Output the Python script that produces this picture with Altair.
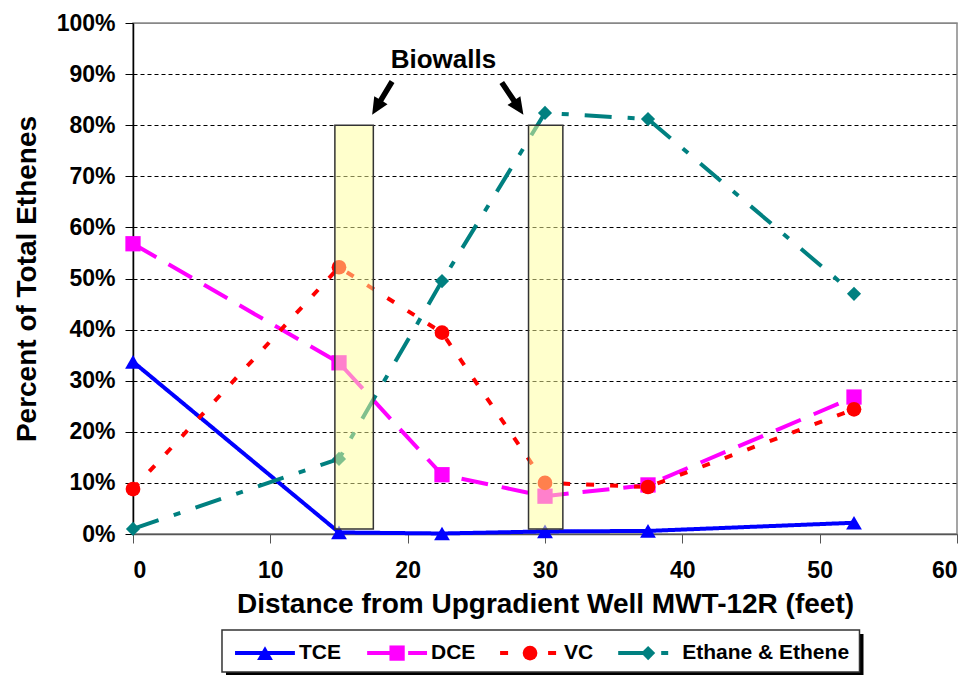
import altair as alt
import pandas as pd

FONT = "Arial, 'Liberation Sans', sans-serif"

# ---- data -------------------------------------------------------------
series = ["TCE", "DCE", "VC", "Ethane & Ethene"]
colors = ["#0000FF", "#FF00FF", "#FF0000", "#008080"]
dashes = [[1, 0], [27, 14], [8, 16], [27, 16, 7, 16]]
shapes = ["triangle-up", "square", "circle", "diamond"]
sizes = [250, 200, 190, 230]

distance = [0, 15, 22.5, 30, 37.5, 52.5]
tce = [33.7, 0.3, 0.1, 0.5, 0.6, 2.2]
dce = [56.8, 33.5, 11.6, 7.4, 9.6, 26.8]
vc = [8.8, 52.2, 39.4, 10.0, 9.2, 24.4]
ethane = [1.0, 14.7, 49.5, 82.4, 81.2, 47.0]

y_ticks = [0.0, 0.1, 0.2, 0.3, 0.4, 0.5, 0.6, 0.7, 0.8, 0.9, 1.0]
x_ticks = [0, 10, 20, 30, 40, 50, 60]

# biowall bands (feet, fraction)
bw_start = [14.7, 28.8]
bw_end = [17.5, 31.3]
bw_top = [0.80, 0.80]
bw_bottom = [0.01, 0.01]

# annotation
label_text = ["Biowalls"]
label_x = [22.6]
label_y = [0.912]
arrow_x = [18.14, 27.64]
arrow_y = [0.853, 0.852]
arrow_angle = [211, 146]

# legend layout (same distance units as the plot)
leg_center = [9.61, 19.23, 28.91, 37.51]
leg_label_x = [12.09, 21.70, 31.39, 39.99]
leg_half = 2.18
leg_box = [6.48, 52.9]
leg_row = 0.45

# ---- tables -------------------------------------------------------------
rows = []
for name, vals in zip(series, [tce, dce, vc, ethane]):
    for d, v in zip(distance, vals):
        rows.append({"series": name, "distance": d, "pct": v / 100.0})
df = pd.DataFrame(rows)

bw_df = pd.DataFrame({"x0": bw_start, "x1": bw_end, "top": bw_top, "bottom": bw_bottom})
lab_df = pd.DataFrame({"x": label_x, "y": label_y, "t": label_text})
arr_df = pd.DataFrame({"x": arrow_x, "y": arrow_y, "a": arrow_angle})

leg_line_rows = []
for name, c in zip(series, leg_center):
    leg_line_rows.append({"series": name, "x": c - leg_half, "y": leg_row})
    leg_line_rows.append({"series": name, "x": c + leg_half, "y": leg_row})
leg_line_df = pd.DataFrame(leg_line_rows)
leg_pt_df = pd.DataFrame({"series": series, "x": leg_center, "y": [leg_row] * 4})
leg_txt_df = pd.DataFrame({"series": series, "x": leg_label_x, "y": [leg_row] * 4})
leg_box_df = pd.DataFrame({"x0": [leg_box[0]], "x1": [leg_box[1]], "y0": [0.0], "y1": [1.0]})

# ---- scales -------------------------------------------------------------
color_scale = alt.Scale(domain=series, range=colors)
dash_scale = alt.Scale(domain=series, range=dashes)
shape_scale = alt.Scale(domain=series, range=shapes)
size_scale = alt.Scale(domain=series, range=sizes)
x_scale = alt.Scale(domain=[0, 60], nice=False, zero=False)
y_scale = alt.Scale(domain=[0, 1], nice=False)

x_axis = alt.Axis(
    values=x_ticks, format="d", grid=False,
    tickSize=9, tickColor="#555555", domainColor="#555555", domainWidth=1.5,
    labelFont=FONT, labelFontSize=23, labelFontWeight="bold", labelColor="black",
    labelPadding=16,
    title="Distance from Upgradient Well MWT-12R (feet)",
    titleFont=FONT, titleFontSize=28, titleFontWeight="bold", titleColor="black",
    titlePadding=8,
)
y_axis = alt.Axis(
    values=y_ticks, format=".0%",
    tickSize=8, tickColor="black", domainColor="black", domainWidth=1.5,
    labelFont=FONT, labelFontSize=23, labelFontWeight="bold", labelColor="black",
    labelPadding=10,
    title="Percent of Total Ethenes",
    titleFont=FONT, titleFontSize=28, titleFontWeight="bold", titleColor="black",
    titlePadding=15,
    grid=True,
    gridColor={"condition": {"test": "datum.value >= 1 || datum.value <= 0", "value": "#888888"}, "value": "#000000"},
    gridDash={"condition": {"test": "datum.value >= 1 || datum.value <= 0", "value": []}, "value": [4, 3]},
    gridWidth=1,
)

X = alt.X("distance:Q", scale=x_scale, axis=x_axis)
Y = alt.Y("pct:Q", scale=y_scale, axis=y_axis)

lines = alt.Chart(df).mark_line(strokeWidth=4, strokeCap="butt").encode(
    x=X, y=Y,
    color=alt.Color("series:N", scale=color_scale, legend=None),
    strokeDash=alt.StrokeDash("series:N", scale=dash_scale, legend=None),
)
points = alt.Chart(df).mark_point(filled=True, opacity=1, strokeWidth=0).encode(
    x=X, y=Y,
    color=alt.Color("series:N", scale=color_scale, legend=None),
    shape=alt.Shape("series:N", scale=shape_scale, legend=None),
    size=alt.Size("series:N", scale=size_scale, legend=None),
)
walls = alt.Chart(bw_df).mark_rect(
    fill="#FFFF99", fillOpacity=0.5, stroke="#333333", strokeWidth=1.5
).encode(
    x=alt.X("x0:Q", scale=x_scale), x2="x1:Q",
    y=alt.Y("top:Q", scale=y_scale), y2="bottom:Q",
)
label = alt.Chart(lab_df).mark_text(
    font=FONT, fontSize=26, fontWeight="bold", color="black",
    align="center", baseline="alphabetic",
).encode(x=alt.X("x:Q", scale=x_scale), y=alt.Y("y:Q", scale=y_scale), text="t:N")
arrows = alt.Chart(arr_df).mark_point(
    shape="arrow", filled=True, color="black", opacity=1, size=1500, strokeWidth=0
).encode(
    x=alt.X("x:Q", scale=x_scale), y=alt.Y("y:Q", scale=y_scale),
    angle=alt.Angle("a:Q", scale=None),
)

main = alt.layer(lines, points, walls, label, arrows).properties(
    width=824, height=511,
    view=alt.ViewBackground(stroke="#888888", strokeWidth=1.5, fill="white"),
)

# ---- legend panel -------------------------------------------------------
LX = alt.Scale(domain=[0, 60], nice=False, zero=False)
LY = alt.Scale(domain=[0, 1], nice=False)

shadow = alt.Chart(leg_box_df).mark_rect(
    fill="black", xOffset=4, x2Offset=4, yOffset=4, y2Offset=4
).encode(
    x=alt.X("x0:Q", scale=LX, axis=None), x2="x1:Q",
    y=alt.Y("y0:Q", scale=LY, axis=None), y2="y1:Q",
)
box = alt.Chart(leg_box_df).mark_rect(fill="white", stroke="#333333", strokeWidth=1.5).encode(
    x=alt.X("x0:Q", scale=LX, axis=None), x2="x1:Q",
    y=alt.Y("y0:Q", scale=LY, axis=None), y2="y1:Q",
)
leg_lines = alt.Chart(leg_line_df).mark_line(strokeWidth=4, strokeCap="butt").encode(
    x=alt.X("x:Q", scale=LX, axis=None), y=alt.Y("y:Q", scale=LY, axis=None),
    color=alt.Color("series:N", scale=color_scale, legend=None),
    strokeDash=alt.StrokeDash("series:N", scale=dash_scale, legend=None),
)
leg_pts = alt.Chart(leg_pt_df).mark_point(filled=True, opacity=1, strokeWidth=0).encode(
    x=alt.X("x:Q", scale=LX, axis=None), y=alt.Y("y:Q", scale=LY, axis=None),
    color=alt.Color("series:N", scale=color_scale, legend=None),
    shape=alt.Shape("series:N", scale=shape_scale, legend=None),
    size=alt.Size("series:N", scale=size_scale, legend=None),
)
leg_txt = alt.Chart(leg_txt_df).mark_text(
    font=FONT, fontSize=21, fontWeight="bold", color="black", align="left", baseline="middle"
).encode(
    x=alt.X("x:Q", scale=LX, axis=None), y=alt.Y("y:Q", scale=LY, axis=None), text="series:N"
)
legend = alt.layer(shadow, box, leg_lines, leg_pts, leg_txt).properties(
    width=824, height=42,
    view=alt.ViewBackground(stroke="transparent"),
)

chart = alt.vconcat(main, legend, spacing=96, bounds="flush").properties(
    padding={"left": 4, "top": 3, "right": 0, "bottom": 0},
    background="white",
).resolve_scale(color="shared", strokeDash="shared", shape="shared", size="shared")

chart.save("out.html", embed_options={"renderer": "svg", "actions": False})
